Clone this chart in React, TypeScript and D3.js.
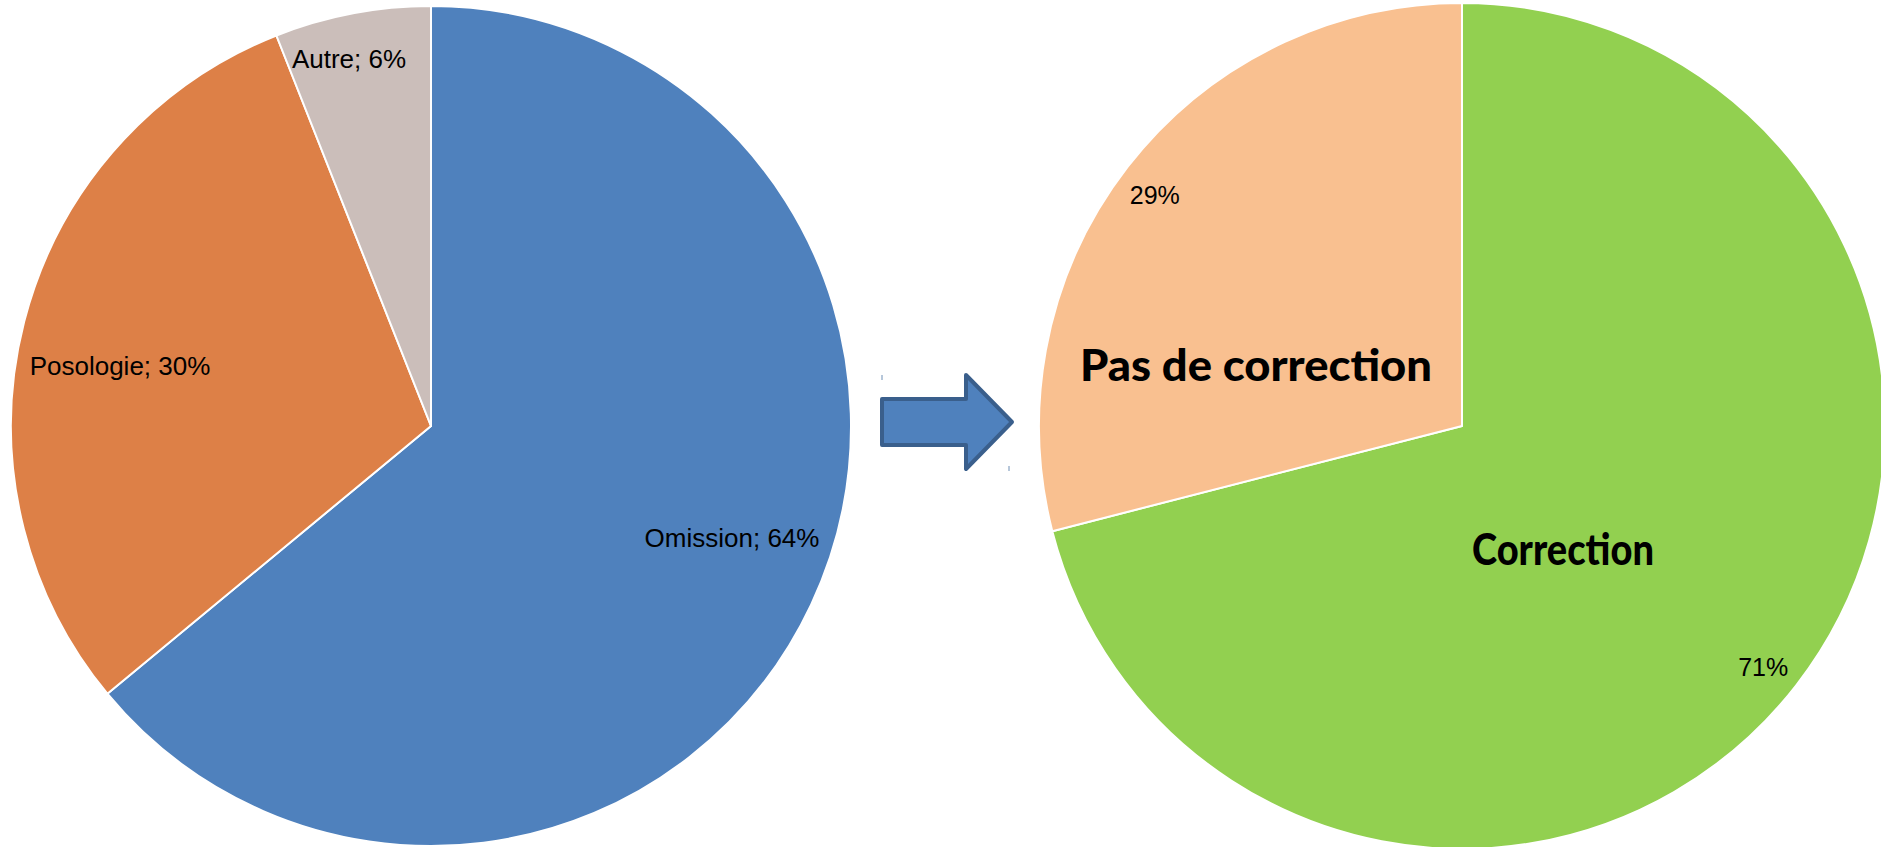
import React, { useEffect, useRef } from "react";
import * as d3 from "d3";

// Left pie: error types
const errorCategories = ["Omission", "Posologie", "Autre"];
const errorValues = [64, 30, 6];
const errorColors = ["#4F81BD", "#DD8047", "#CBBEBA"];

// Right pie: outcome
const outcomeCategories = ["Correction", "Pas de correction"];
const outcomeValues = [71, 29];
const outcomeColors = ["#92D050", "#F9C090"];

const WIDTH = 1881;
const HEIGHT = 847;

const App: React.FC = () => {
  const ref = useRef<SVGSVGElement>(null);

  useEffect(() => {
    if (!ref.current) return;
    const svg = d3.select(ref.current);
    svg.selectAll("*").remove();

    const pie = d3.pie<number>().sort(null).value((d: number) => d);

    // ---- left pie
    const left = { cx: 431, cy: 426, r: 420 };
    const gL = svg.append("g").attr("transform", `translate(${left.cx},${left.cy})`);
    const arcL = d3.arc<any>().innerRadius(0).outerRadius(left.r);
    const arcsL = pie(errorValues);

    gL.selectAll("path")
      .data(arcsL)
      .enter()
      .append("path")
      .attr("d", arcL)
      .attr("fill", (_: any, i: number) => errorColors[i])
      .attr("stroke", "#fff")
      .attr("stroke-width", 2)
      .attr("stroke-linejoin", "round");

    // label offsets (relative to pie centre), Excel style "Cat; 64%"
    const leftLabelPos = [
      [301, 112],
      [-311, -60],
      [-82, -367],
    ];
    gL.selectAll("text.lbl")
      .data(arcsL)
      .enter()
      .append("text")
      .attr("class", "lbl")
      .attr("x", (_: any, i: number) => leftLabelPos[i][0])
      .attr("y", (_: any, i: number) => leftLabelPos[i][1])
      .attr("text-anchor", "middle")
      .attr("dominant-baseline", "central")
      .style("font-family", "'Liberation Sans', Arial, sans-serif")
      .style("font-size", "26px")
      .style("fill", "#000")
      .text((d: any, i: number) => `${errorCategories[i]}; ${d.data}%`);

    // ---- arrow
    const arrow = d3.path();
    arrow.moveTo(882, 399);
    arrow.lineTo(966, 399);
    arrow.lineTo(966, 375);
    arrow.lineTo(1012, 422);
    arrow.lineTo(966, 469);
    arrow.lineTo(966, 445);
    arrow.lineTo(882, 445);
    arrow.closePath();
    svg.append("path")
      .attr("d", arrow.toString())
      .attr("fill", "#4F81BD")
      .attr("stroke", "#3A5F8C")
      .attr("stroke-width", 4)
      .attr("stroke-linejoin", "round");

    // tiny leftover tick marks near arrow
    svg.append("line").attr("x1", 882).attr("x2", 882).attr("y1", 375).attr("y2", 380)
      .attr("stroke", "#6f8fb5").attr("stroke-width", 1);
    svg.append("line").attr("x1", 1009).attr("x2", 1009).attr("y1", 466).attr("y2", 471)
      .attr("stroke", "#6f8fb5").attr("stroke-width", 1);

    // ---- right pie
    const right = { cx: 1462, cy: 426, r: 423 };
    const gR = svg.append("g").attr("transform", `translate(${right.cx},${right.cy})`);
    const arcR = d3.arc<any>().innerRadius(0).outerRadius(right.r);
    const arcsR = pie(outcomeValues);

    gR.selectAll("path")
      .data(arcsR)
      .enter()
      .append("path")
      .attr("d", arcR)
      .attr("fill", (_: any, i: number) => outcomeColors[i])
      .attr("stroke", "#fff")
      .attr("stroke-width", 2)
      .attr("stroke-linejoin", "round");

    // percentage labels near outer edge
    const pctArc = d3.arc<any>().innerRadius(385).outerRadius(385);
    gR.selectAll("text.pct")
      .data(arcsR)
      .enter()
      .append("text")
      .attr("class", "pct")
      .attr("transform", (d: any) => {
        const [x, y] = pctArc.centroid(d);
        return `translate(${x - 3},${y + 5})`;
      })
      .attr("text-anchor", "middle")
      .attr("dominant-baseline", "central")
      .style("font-family", "'Liberation Sans', Arial, sans-serif")
      .style("font-size", "25px")
      .style("fill", "#000")
      .text((d: any) => `${d.data}%`);

    // big bold category names
    const bigLabelPos = [
      [101, 122, 182],
      [-206, -62, 352],
    ];
    gR.selectAll("text.cat")
      .data(arcsR)
      .enter()
      .append("text")
      .attr("class", "cat")
      .attr("x", (_: any, i: number) => bigLabelPos[i][0])
      .attr("y", (_: any, i: number) => bigLabelPos[i][1])
      .attr("text-anchor", "middle")
      .attr("dominant-baseline", "central")
      .attr("textLength", (_: any, i: number) => bigLabelPos[i][2])
      .attr("lengthAdjust", "spacingAndGlyphs")
      .style("font-family", "Lato, 'Open Sans', sans-serif")
      .style("font-weight", "900")
      .style("font-size", "43px")
      .style("fill", "#000")
      .text((_: any, i: number) => outcomeCategories[i]);
  }, []);

  return (
    <div style={{ position: "fixed", left: 0, top: 0, width: WIDTH, height: HEIGHT, background: "#fff" }}>
      <svg ref={ref} width={WIDTH} height={HEIGHT} />
    </div>
  );
};

export default App;
